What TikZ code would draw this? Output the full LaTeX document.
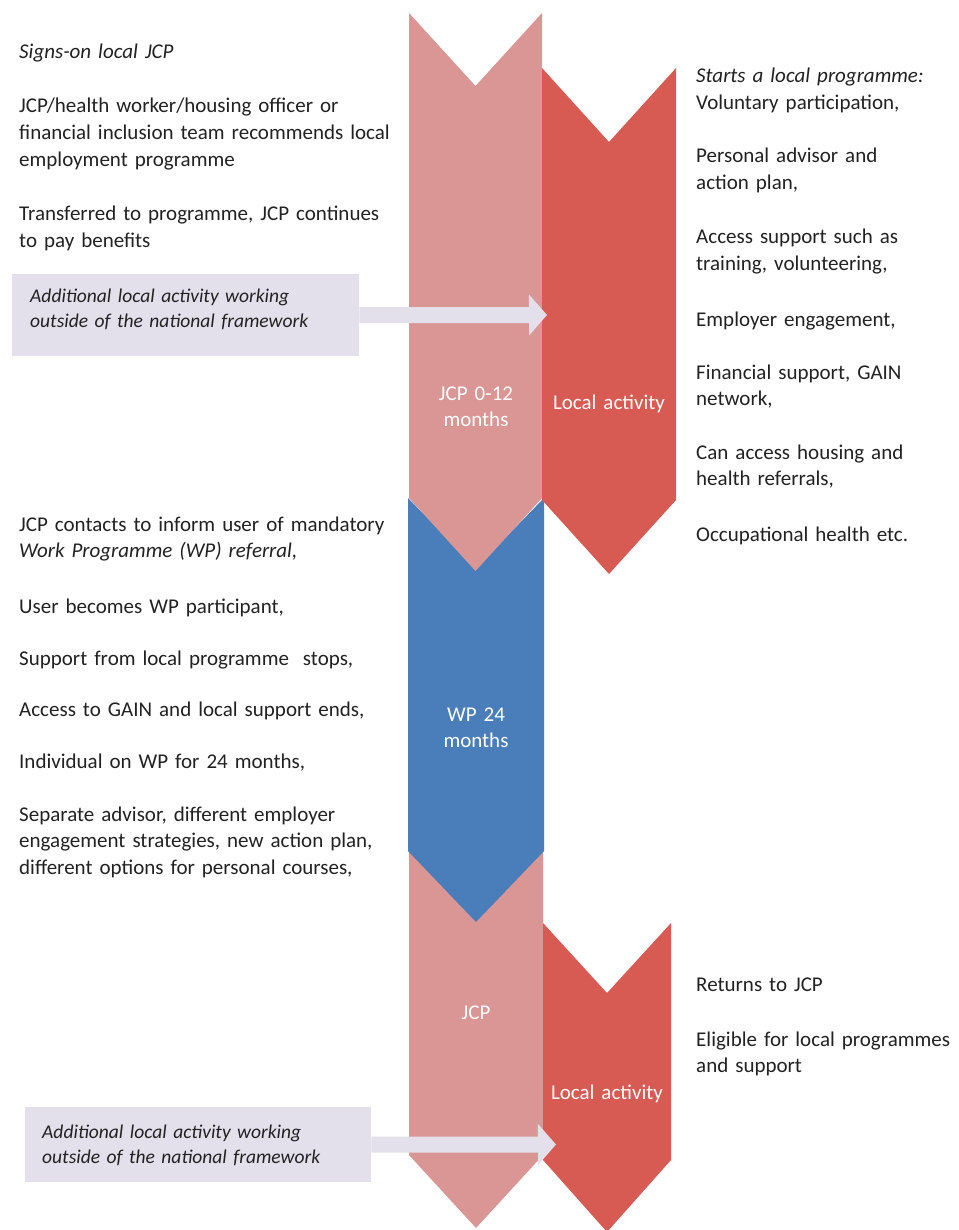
\documentclass[tikz,border=0pt]{standalone}
\usepackage{fontspec}
\setmainfont{Carlito}
\usetikzlibrary{arrows.meta}

\definecolor{jcppink}{HTML}{D99694}
\definecolor{localred}{HTML}{D75B53}
\definecolor{wpblue}{HTML}{4A7EBB}
\definecolor{lavender}{HTML}{E3DFEB}
\definecolor{bodytext}{HTML}{222222}

% chevron band: colour, left x, right x, top y, bottom y, notch depth, tip depth
\newcommand{\chevronband}[7]{%
  \fill[#1] (#2,#4) -- ({(#2+#3)/2},{#4+#6}) -- (#3,#4) -- (#3,#5)
            -- ({(#2+#3)/2},{#5+#7}) -- (#2,#5) -- cycle;}

\begin{document}
\begin{tikzpicture}[x=1pt,y=-1pt,
  bodyfont/.style={font=\fontsize{21}{26.7}\selectfont},
  para/.style={bodyfont, text=bodytext, anchor=base west, inner sep=0pt,
               text width=420pt, align=left},
  stagelabel/.style={bodyfont, text=white, anchor=base, inner sep=0pt,
                     text width=130pt, align=center},
  notebox/.style={fill=lavender, draw=none, anchor=north west, inner sep=0pt},
  notetext/.style={font=\fontsize{19.5}{25.5}\selectfont\itshape, text=bodytext,
                   anchor=base west, inner sep=0pt, text width=340pt, align=left},
  feed/.style={draw=lavender, line width=16pt,
               -{Triangle[width=40pt,length=18pt]}}]

\path[use as bounding box, fill=white] (0,0) rectangle (958,1230);

% stage bands (lower ones first so the upper tips sit on top)
\chevronband{jcppink}{409}{543}{851}{1155}{70}{73}
\chevronband{wpblue}{408}{544}{498}{851}{70}{71}
\chevronband{jcppink}{409}{542}{13}{498}{73}{73}
\chevronband{localred}{542}{676}{68}{500}{74}{74}
\chevronband{localred}{543}{671}{923}{1160}{70}{72}

% stage labels
\node[stagelabel] (jcpfirst) at (476,400) {JCP 0-12\\months};
\node[stagelabel] (localfirst) at (609,409) {Local activity};
\node[stagelabel] (wpstage) at (476,721) {WP 24\\months};
\node[stagelabel] (jcpsecond) at (476,1019) {JCP};
\node[stagelabel] (localsecond) at (607,1099) {Local activity};

% side notes with feed arrows
\node[notebox, minimum width=347pt, minimum height=82pt] (box1) at (12,274) {};
\node[notetext] (box1txt) at (30,302) {Additional local activity working\\outside of the national framework};
\coordinate (tip1) at (547,315);
\draw[feed] (box1.east) -- (tip1);

\node[notebox, minimum width=346pt, minimum height=75pt] (box2) at (25,1107) {};
\node[notetext] (box2txt) at (42,1138) {Additional local activity working\\outside of the national framework};
\coordinate (tip2) at (556,1144.5);
\draw[feed] (box2.east) -- (tip2);

% left column
\node[para] (l1) at (19,59) {\textit{Signs-on local JCP}};
\node[para] (l2) at (19,113) {JCP/health worker/housing officer or\\financial inclusion team recommends local\\employment programme};
\node[para] (l3) at (19,221) {Transferred to programme,\ JCP continues\\to pay benefits};
\node[para] (l4) at (19,531) {JCP contacts to inform user of mandatory\\\textit{Work Programme (WP) referral,}};
\node[para] (l5) at (19,613) {User becomes WP participant,};
\node[para] (l6) at (19,665) {Support from local programme\ \ stops,};
\node[para] (l7) at (19,716) {Access to GAIN and local support ends,};
\node[para] (l8) at (19,768) {Individual on WP for 24 months,};
\node[para] (l9) at (19,821) {Separate advisor, different employer\\engagement strategies, new action plan,\\different options for personal courses,};

% right column
\node[para] (r1) at (696,83) {\textit{Starts a local programme:}\\Voluntary participation,};
\node[para] (r2) at (696,163) {Personal advisor and\\action\ plan,};
\node[para] (r3) at (696,244) {Access support such as\\training,\ volunteering,};
\node[para] (r4) at (696,326) {Employer engagement,};
\node[para] (r5) at (696,379) {Financial support, GAIN\\network,};
\node[para] (r6) at (696,459) {Can access housing and\\health referrals,};
\node[para] (r7) at (696,541) {Occupational health etc.};
\node[para] (r8) at (696,991) {Returns to JCP};
\node[para] (r9) at (696,1046) {Eligible for local programmes\\and support};

\end{tikzpicture}
\end{document}
